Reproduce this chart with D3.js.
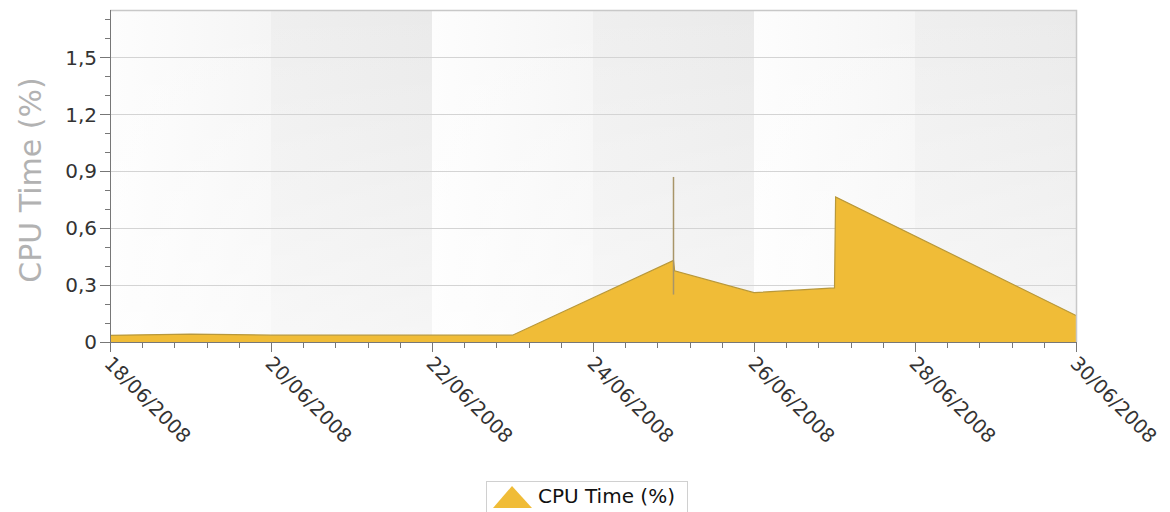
<!DOCTYPE html>
<html><head><meta charset="utf-8">
<script src="https://cdn.jsdelivr.net/npm/d3@7"></script>
<style>body{margin:0;background:#fff;font-family:Tahoma,"DejaVu Sans",sans-serif}</style>
</head><body>
<svg id="c" width="1170" height="512"></svg>
<script>
const dates = ["2008-06-18T00:00","2008-06-19T00:00","2008-06-20T00:00","2008-06-21T00:00","2008-06-22T00:00","2008-06-23T00:00","2008-06-25T00:00","2008-06-25T00:20","2008-06-26T00:00","2008-06-27T00:00","2008-06-27T00:20","2008-06-30T00:00"];
const cpuValues = [0.035,0.042,0.036,0.036,0.036,0.036,0.43,0.375,0.26,0.285,0.765,0.14];
const rangeDates = ["2008-06-25T00:00"];
const rangeLow = [0.25];
const rangeHigh = [0.87];
const yTicks = [0,0.3,0.6,0.9,1.2,1.5];
const yTickLabels = ["0","0,3","0,6","0,9","1,2","1,5"];
const xTickDates = ["2008-06-18","2008-06-20","2008-06-22","2008-06-24","2008-06-26","2008-06-28","2008-06-30"];
const xTickLabels = ["18/06/2008","20/06/2008","22/06/2008","24/06/2008","26/06/2008","28/06/2008","30/06/2008"];
const seriesName = "CPU Time (%)";
const yTitle = "CPU Time (%)";

const parse = d3.timeParse("%Y-%m-%dT%H:%M");
const parseDay = d3.timeParse("%Y-%m-%d");
const data = dates.map((d,i)=>({t:parse(d), v:cpuValues[i]}));
const ranges = rangeDates.map((d,i)=>({t:parse(d), lo:rangeLow[i], hi:rangeHigh[i]}));
const xt = xTickDates.map(parseDay);

const L=110, R=1076, T=10, B=342;
const svg = d3.select("#c");
const x = d3.scaleTime().domain([xt[0], xt[xt.length-1]]).range([L,R]);
const y = d3.scaleLinear().domain([0,1.75]).range([B,T]);

const defs = svg.append("defs");
function grad(id, a, b){
  const g = defs.append("linearGradient").attr("id",id).attr("x1",0).attr("x2",1).attr("y1",0).attr("y2",0);
  g.append("stop").attr("offset","0").attr("stop-color",a);
  g.append("stop").attr("offset","1").attr("stop-color",b);
}
grad("bandA","#fdfdfd","#f5f5f5");
grad("bandB","#efefef","#eaeaea");
const gv = defs.append("linearGradient").attr("id","vshade").attr("x1",0).attr("x2",0).attr("y1",0).attr("y2",1);
gv.append("stop").attr("offset","0").attr("stop-color","#ffffff").attr("stop-opacity",0);
gv.append("stop").attr("offset","1").attr("stop-color","#ffffff").attr("stop-opacity",0.55);

for (let i=0;i<xt.length-1;i++){
  svg.append("rect").attr("x",x(xt[i])).attr("y",T).attr("width",x(xt[i+1])-x(xt[i])).attr("height",B-T)
    .attr("fill", i%2===0 ? "url(#bandA)" : "url(#bandB)");
}
svg.append("rect").attr("x",L).attr("y",T).attr("width",R-L).attr("height",B-T).attr("fill","url(#vshade)");

// gridlines
svg.append("g").selectAll("line").data(yTicks.slice(1)).join("line")
  .attr("x1",L).attr("x2",R).attr("y1",d=>Math.round(y(d))+0.5).attr("y2",d=>Math.round(y(d))+0.5)
  .attr("stroke","#d4d4d4").attr("stroke-width",1);

// area
const area = d3.area().x(d=>x(d.t)).y0(y(0)).y1(d=>y(d.v));
svg.append("path").datum(data).attr("d",area).attr("fill","#f0bc37");
const line = d3.line().x(d=>x(d.t)).y(d=>y(d.v));
svg.append("path").datum(data).attr("d",line).attr("fill","none").attr("stroke","#b8983a").attr("stroke-width",1.2);

// range line
svg.append("g").selectAll("line").data(ranges).join("line")
  .attr("x1",d=>x(d.t)).attr("x2",d=>x(d.t)).attr("y1",d=>y(d.lo)).attr("y2",d=>y(d.hi))
  .attr("stroke","#a89568").attr("stroke-width",1.5);

// border top/right
svg.append("path").attr("d",`M${L},${T+0.5}H${R+0.5}V${B}`).attr("fill","none").attr("stroke","#c8c8c8").attr("stroke-width",1.5);

// y axis
const yMinor = d3.range(0,1.75,0.1);
const yAx = svg.append("g").attr("transform",`translate(${L},0)`);
yAx.append("line").attr("x1",0.5).attr("x2",0.5).attr("y1",T).attr("y2",B).attr("stroke","#777");
yAx.selectAll("line.mn").data(yMinor).join("line").attr("class","mn")
  .attr("x1",-5).attr("x2",0).attr("y1",d=>Math.round(y(d))+0.5).attr("y2",d=>Math.round(y(d))+0.5).attr("stroke","#777");
yAx.selectAll("line.mj").data(yTicks).join("line").attr("class","mj")
  .attr("x1",-10).attr("x2",0).attr("y1",d=>Math.round(y(d))+0.5).attr("y2",d=>Math.round(y(d))+0.5).attr("stroke","#777");
yAx.selectAll("text").data(yTicks).join("text")
  .attr("x",-13).attr("y",d=>y(d)).attr("dy","0.36em").attr("text-anchor","end")
  .attr("font-size",20).attr("fill","#333").text((d,i)=>yTickLabels[i]);

// x axis
const xAx = svg.append("g").attr("transform",`translate(0,${B})`);
xAx.append("line").attr("x1",L).attr("x2",R).attr("y1",0.5).attr("y2",0.5).attr("stroke","#777");
xAx.selectAll("line.mn").data(d3.range(0,31).map(i=>new Date(+xt[0]+i*0.4*86400000))).join("line").attr("class","mn")
  .attr("x1",d=>Math.round(x(d))+0.5).attr("x2",d=>Math.round(x(d))+0.5).attr("y1",0).attr("y2",6).attr("stroke","#777");
xAx.selectAll("line.mj").data(xt).join("line").attr("class","mj")
  .attr("x1",d=>Math.round(x(d))+0.5).attr("x2",d=>Math.round(x(d))+0.5).attr("y1",0).attr("y2",10).attr("stroke","#777");
xAx.selectAll("text").data(xt).join("text")
  .attr("transform",d=>`translate(${x(d)-2},${18}) rotate(45)`)
  .attr("text-anchor","start").attr("dy","0.35em")
  .attr("font-size",19.5).attr("fill","#333").text((d,i)=>xTickLabels[i]);

// y title
svg.append("text").attr("transform",`translate(41,${(T+B)/2+4}) rotate(-90)`)
  .attr("text-anchor","middle").attr("font-size",30).attr("fill","#b2b2b2").text(yTitle);

// legend
const lg = svg.append("g").attr("transform","translate(486,481)");
lg.append("rect").attr("x",0.5).attr("y",0.5).attr("width",201).attr("height",31).attr("fill","#fff").attr("stroke","#d0d0d0");
lg.append("path").attr("d","M7,27 L26,5 L46,27 Z").attr("fill","#f0bc37");
lg.append("text").attr("x",52).attr("y",15).attr("dy","0.36em").attr("font-size",20).attr("fill","#111").text(seriesName);
</script>
</body></html>
